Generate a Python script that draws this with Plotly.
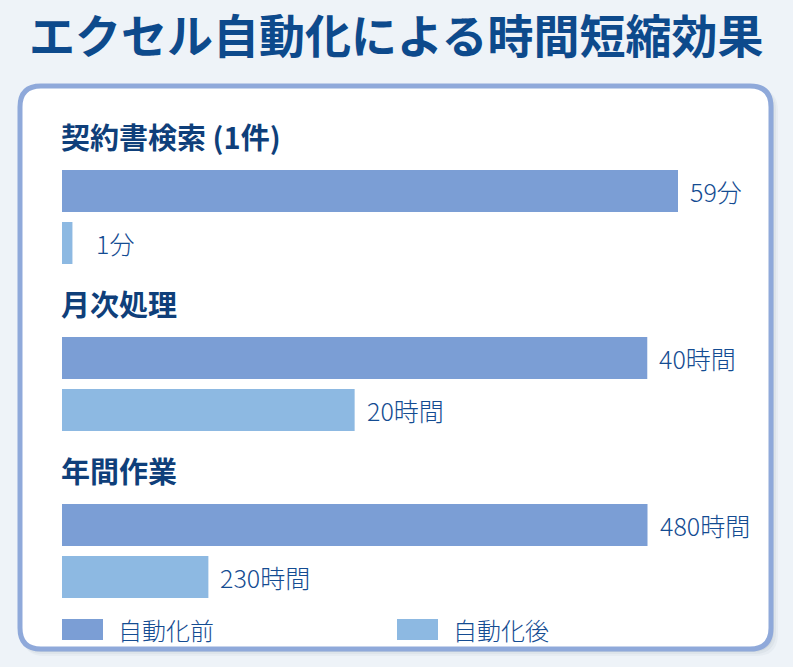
import plotly.graph_objects as go

# ---------------- data ----------------
title_text = "エクセル自動化による時間短縮効果"
groups = ["契約書検索 (1件)", "月次処理", "年間作業"]
series_names = ["自動化前", "自動化後"]
before_values = [59, 40, 480]          # bar lengths (before)
after_values = [1, 20, 120]            # bar lengths as drawn (after)
before_labels = ["59分", "40時間", "480時間"]
after_labels = ["1分", "20時間", "230時間"]
axis_max = [59, 42.1, 505]             # per-group scale maximum

# ---------------- style ----------------
W, H = 793, 667
BG = "#EEF3F8"
C_BEFORE = "#7B9ED5"
C_AFTER = "#8DB9E2"
TITLE_C = "#0D4A8C"
HEAD_C = "#0F3F7A"
LABEL_C = "#144C92"
FONT = "Noto Sans CJK JP"


def px(x):
    return x / W


def py(y):
    return 1 - y / H


def rrect_path(x0, y0, x1, y1, r):
    pts = [
        ("M", [(x0 + r, y0)]),
        ("L", [(x1 - r, y0)]),
        ("Q", [(x1, y0), (x1, y0 + r)]),
        ("L", [(x1, y1 - r)]),
        ("Q", [(x1, y1), (x1 - r, y1)]),
        ("L", [(x0 + r, y1)]),
        ("Q", [(x0, y1), (x0, y1 - r)]),
        ("L", [(x0, y0 + r)]),
        ("Q", [(x0, y0), (x0 + r, y0)]),
    ]
    s = ""
    for cmd, ps in pts:
        s += cmd + " " + " ".join(f"{px(a):.5f},{py(b):.5f}" for a, b in ps) + " "
    return s + "Z"


fig = go.Figure()

BAR_LEFT, BAR_RIGHT = 62, 678
GROUP_TOP0, GROUP_STEP, SLOT = 165, 167, 52
BAR_W = 42 / SLOT

layout_axes = {}
annotations = []
for i, g in enumerate(groups):
    ax = "" if i == 0 else str(i + 1)
    top = GROUP_TOP0 + GROUP_STEP * i
    bottom = top + 2 * SLOT
    for j, (vals, labels, name, col) in enumerate(
        [(before_values, before_labels, series_names[0], C_BEFORE),
         (after_values, after_labels, series_names[1], C_AFTER)]):
        fig.add_trace(go.Bar(
            x=[vals[i]], y=[j], orientation="h", width=BAR_W,
            marker=dict(color=col, line=dict(width=0)),
            name=name, showlegend=False, hoverinfo="x+name",
            xaxis="x" + ax, yaxis="y" + ax,
        ))
        small = vals[i] / axis_max[i] < 0.05
        annotations.append(dict(
            x=vals[i], y=j, xref="x" + ax, yref="y" + ax,
            text=labels[i], showarrow=False, xanchor="left", yanchor="middle",
            xshift=22 if small else 10,
            font=dict(family=FONT, size=25, color=LABEL_C, weight=300),
        ))
    layout_axes["xaxis" + ax] = dict(
        domain=[px(BAR_LEFT), px(BAR_RIGHT)], range=[0, axis_max[i]],
        visible=False, fixedrange=True, anchor="y" + ax)
    layout_axes["yaxis" + ax] = dict(
        domain=[py(bottom), py(top)], range=[1.5, -0.5],
        visible=False, fixedrange=True, anchor="x" + ax)
    # group heading
    annotations.append(dict(
        x=px(59), y=py(top - 29), xref="paper", yref="paper",
        text=g, showarrow=False, xanchor="left", yanchor="middle",
        font=dict(family=FONT, size=29, color=HEAD_C, weight="bold"),
    ))

# title
annotations.append(dict(
    x=0.5, y=1, xref="paper", yref="paper", text=title_text,
    showarrow=False, xanchor="center", yanchor="top", yshift=2,
    font=dict(family=FONT, size=46, color=TITLE_C, weight="bold"),
))

shapes = []
# card shadow
for k, (off, a) in enumerate([(7, 0.04), (5, 0.05), (3, 0.07)]):
    shapes.append(dict(
        type="path", path=rrect_path(20 - 1 + off * 0.5, 86 + off * 0.4, 771 + off, 649 + off, 22),
        xref="paper", yref="paper", fillcolor=f"rgba(60,70,90,{a})",
        line=dict(width=0), layer="below"))
# card
shapes.append(dict(
    type="path", path=rrect_path(20, 86, 771, 649, 21),
    xref="paper", yref="paper", fillcolor="white",
    line=dict(color="#8FA9DA", width=5), layer="below"))

# legend
legend_x = [62, 397]
for name, col, lx in zip(series_names, [C_BEFORE, C_AFTER], legend_x):
    shapes.append(dict(
        type="rect", x0=px(lx), x1=px(lx + 41), y0=py(640), y1=py(619),
        xref="paper", yref="paper", fillcolor=col, line=dict(width=0)))
    annotations.append(dict(
        x=px(lx + 54), y=py(629), xref="paper", yref="paper", text=name,
        showarrow=False, xanchor="left", yanchor="middle",
        font=dict(family=FONT, size=24, color=LABEL_C, weight=300),
    ))

fig.update_layout(
    width=W, height=H,
    margin=dict(l=0, r=0, t=0, b=0),
    paper_bgcolor=BG, plot_bgcolor="rgba(0,0,0,0)",
    showlegend=False, barmode="overlay",
    annotations=annotations, shapes=shapes,
    font=dict(family=FONT),
    **layout_axes,
)

fig.write_html(
    "out.html",
    config={"displayModeBar": False},
    post_script="document.body.style.margin='0px';document.body.style.overflow='hidden';",
)
